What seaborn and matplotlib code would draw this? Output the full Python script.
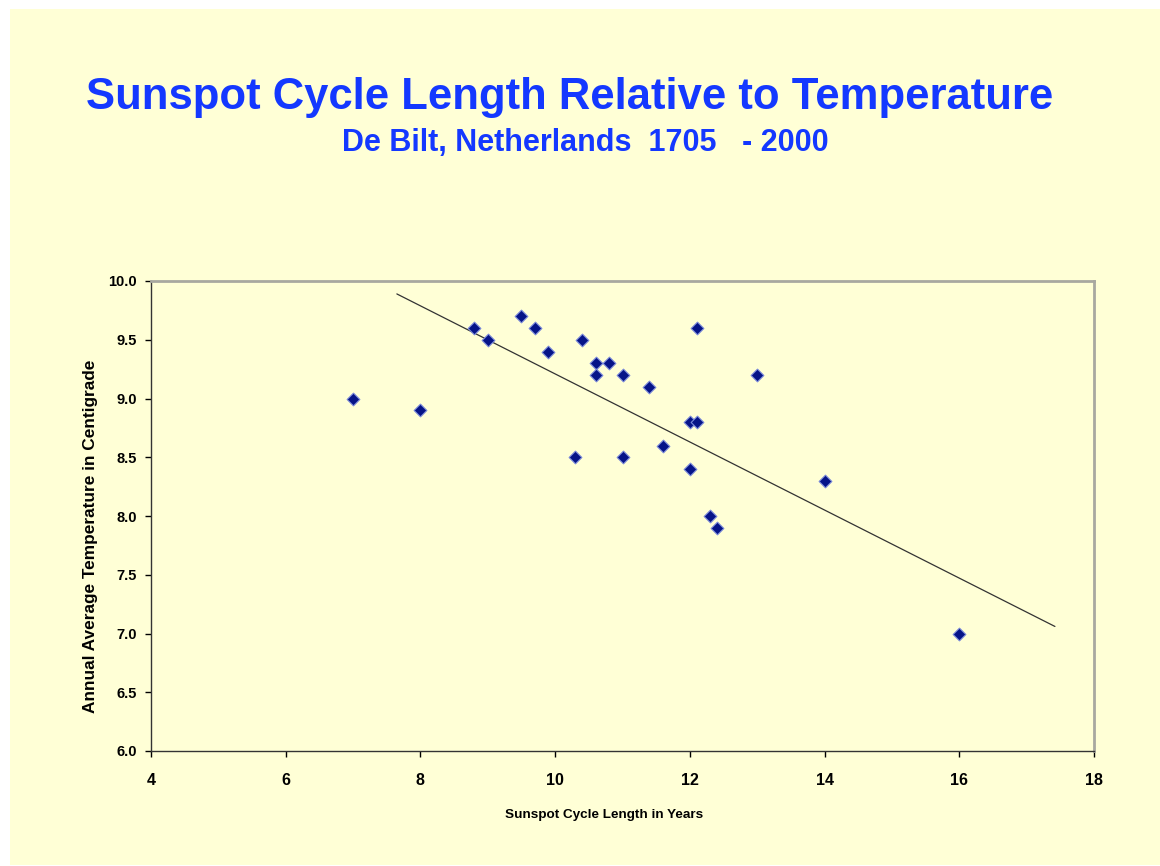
import pandas as pd
import matplotlib
matplotlib.use("Agg")
import matplotlib.pyplot as plt
import seaborn as sns
from matplotlib.patches import Rectangle

# data
cycle_len = [7.0, 8.0, 8.8, 9.0, 9.5, 9.7, 9.9, 10.3, 10.4, 10.6, 10.6, 10.8, 11.0,
             11.0, 11.4, 11.6, 12.0, 12.1, 12.0, 12.1, 12.3, 12.4, 13.0, 14.0, 16.0]
temp = [9.0, 8.9, 9.6, 9.5, 9.7, 9.6, 9.4, 8.5, 9.5, 9.3, 9.2, 9.3, 9.2,
        8.5, 9.1, 8.6, 8.8, 8.8, 8.4, 9.6, 8.0, 7.9, 9.2, 8.3, 7.0]
# trend line ends, as drawn in the chart
trend_x = [7.65, 17.42]
trend_y = [9.89, 7.06]
x_ticks = [4, 6, 8, 10, 12, 14, 16, 18]
y_ticks = [6.0, 6.5, 7.0, 7.5, 8.0, 8.5, 9.0, 9.5, 10.0]

df = pd.DataFrame({"cycle": cycle_len, "temp": temp})
trend = pd.DataFrame({"cycle": trend_x, "temp": trend_y})

bg = "#FFFFD6"
blue = "#1438FF"

sns.set_style("white")
plt.rcParams["font.family"] = ["Liberation Sans", "DejaVu Sans"]
plt.rcParams["text.color"] = "black"
plt.rcParams["xtick.color"] = "black"
plt.rcParams["ytick.color"] = "black"

fig = plt.figure(figsize=(11.6, 8.66), dpi=100)
fig.patch.set_facecolor("white")
fig.patches.append(Rectangle((10 / 1160, 1 / 866), 1.0, 856 / 866,
                             transform=fig.transFigure, facecolor=bg,
                             edgecolor="none", zorder=-5))

ax = fig.add_axes([151 / 1160, 1 - 751 / 866, 943 / 1160, 470 / 866])
ax.set_facecolor(bg)

sns.lineplot(data=trend, x="cycle", y="temp", color="#333333", linewidth=0.9, ax=ax)
sns.scatterplot(data=df, x="cycle", y="temp", marker="D", s=42,
                color="#061488", edgecolor="#7888D8", linewidth=0.8, ax=ax, zorder=3)

ax.set_xlim(4, 18)
ax.set_ylim(6, 10)
ax.set_xticks(x_ticks)
ax.set_yticks(y_ticks)
ax.set_xticklabels([str(t) for t in x_ticks], fontsize=11.5, fontweight="bold")
ax.set_yticklabels([f"{t:.1f}" for t in y_ticks], fontsize=10.5, fontweight="bold")
ax.tick_params(axis="x", direction="out", length=4, width=1, pad=12, bottom=True)
ax.tick_params(axis="y", direction="out", length=4, width=1, pad=6, left=True)
ax.set_xlabel("")
ax.set_ylabel("")

for side in ["left", "bottom"]:
    ax.spines[side].set_color("#333333")
    ax.spines[side].set_linewidth(1.0)
for side in ["top", "right"]:
    ax.spines[side].set_color("#A8A8A0")
    ax.spines[side].set_linewidth(2.0)

fig.text(570 / 1160, 1 - 97 / 866, "Sunspot Cycle Length Relative to Temperature",
         color=blue, fontsize=31.4, fontweight="bold", ha="center", va="center")
fig.text(585 / 1160, 1 - 143 / 866, "De Bilt, Netherlands  1705   - 2000",
         color=blue, fontsize=22, fontweight="bold", ha="center", va="center")
fig.text(604 / 1160, 1 - 815 / 866, "Sunspot Cycle Length in Years",
         fontsize=9.7, fontweight="bold", ha="center", va="center")
fig.text(91 / 1160, 1 - 536 / 866, "Annual Average Temperature in Centigrade",
         fontsize=12.4, fontweight="bold", ha="center", va="center", rotation=90)

fig.savefig("out.png", dpi=100, facecolor=fig.get_facecolor())
